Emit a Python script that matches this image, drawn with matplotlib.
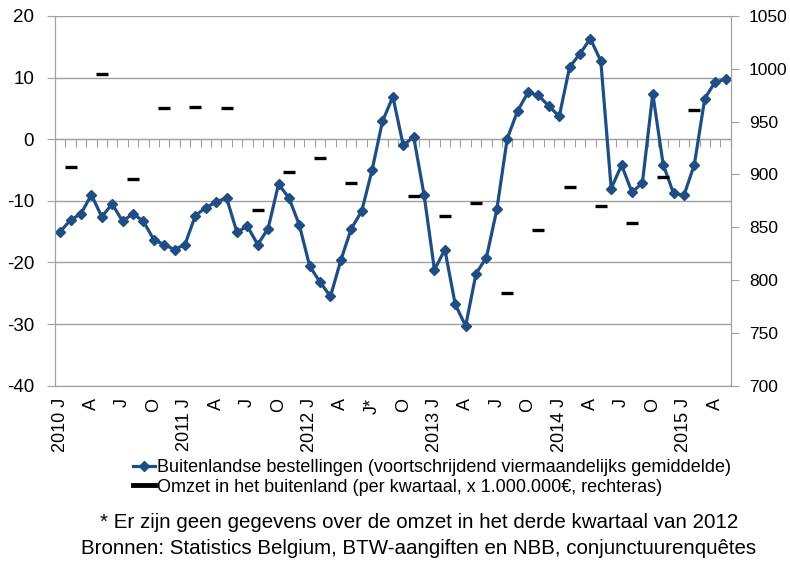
import numpy as np
import pandas as pd
import matplotlib
matplotlib.use("Agg")
import matplotlib.pyplot as plt
from matplotlib.lines import Line2D

plt.rcParams['font.family'] = ['Liberation Sans Narrow', 'Liberation Sans', 'DejaVu Sans']
plt.rcParams['axes.unicode_minus'] = False

# monthly categories Jan 2010 - May 2015
months = pd.date_range('2010-01-01', periods=65, freq='MS')

# Buitenlandse bestellingen (left axis)
orders = [-15.0, -13.1, -12.1, -9.0, -12.6, -10.5, -13.3, -12.1, -13.3, -16.3,
          -17.1, -17.9, -17.1, -12.4, -11.1, -10.2, -9.5, -15.1, -14.1, -17.1,
          -14.5, -7.3, -9.5, -13.9, -20.6, -23.2, -25.5, -19.6, -14.5, -11.7,
          -5.0, 2.9, 6.9, -1.0, 0.4, -9.0, -21.2, -17.9, -26.8, -30.3,
          -21.8, -19.2, -11.4, 0.1, 4.6, 7.6, 7.1, 5.4, 3.7, 11.7,
          13.9, 16.3, 12.7, -8.0, -4.2, -8.6, -7.1, 7.4, -4.1, -8.8,
          -9.1, -4.1, 6.6, 9.3, 9.7]

# Omzet in het buitenland per kwartaal (right axis), Q1 2010 - Q1 2015, Q3 2012 missing
turnover = [907, 995, 896, 963, 964, 963, 866, 902, 916, 892, np.nan,
            880, 861, 873, 788, 847, 888, 870, 854, 898, 961]

quarter_labels = ['2010 J', 'A', 'J', 'O', '2011 J', 'A', 'J', 'O',
                  '2012 J', 'A', 'J*', 'O', '2013 J', 'A', 'J', 'O',
                  '2014 J', 'A', 'J', 'O', '2015 J', 'A']

x = np.arange(len(months))
xq = np.arange(len(turnover)) * 3 + 1   # middle month of each quarter

BLUE = '#1F4E85'
GRAY = '#A0A0A0'

fig = plt.figure(figsize=(7.9, 5.65), dpi=100)
ax = fig.add_axes([0.0696, 0.3173, 0.925 - 0.0696, 0.9717 - 0.3173])
ax2 = ax.twinx()

ax.plot(x, orders, '-D', color=BLUE, linewidth=2.3, markersize=5.5, zorder=3)
ax2.plot(xq, turnover, '_', color='black', markersize=8, markeredgewidth=2.4)

ax.set_xlim(-0.5, len(months) - 0.5)
ax.set_ylim(-40, 20)
ax.set_yticks(np.arange(-40, 21, 10))
ax2.set_ylim(700, 1050)
ax2.set_yticks(np.arange(700, 1051, 50))

ax.yaxis.grid(True, color=GRAY, linewidth=1)
ax.set_axisbelow(True)

for a in (ax, ax2):
    for s in a.spines.values():
        s.set_color(GRAY)
    a.spines['top'].set_visible(False)
ax.tick_params(axis='y', direction='out', length=6, color=GRAY,
               labelsize=13.5, pad=9)
ax2.tick_params(axis='y', direction='out', length=6, color=GRAY,
                labelsize=12.5, pad=7)

ax.set_xticks(x[::3])
ax.set_xticklabels(quarter_labels, rotation=90, fontsize=13)
ax.tick_params(axis='x', length=0, pad=9)

# horizontal category axis crossing at zero, with tick marks between months
zero_pos = (0 - (-40)) / 60
sec = ax.secondary_xaxis(zero_pos)
sec.set_alignment('bottom')
sec.set_xticks(np.arange(-0.5, len(months), 1))
sec.tick_params(axis='x', direction='out', length=6, color=GRAY,
                labelbottom=False, labeltop=False)
sec.spines['bottom'].set_color(GRAY)
sec.spines['top'].set_visible(False)

handles = [
    Line2D([], [], color=BLUE, marker='D', linewidth=2.3, markersize=5.5),
    Line2D([], [], color='black', linewidth=3.5),
]
labels = ['Buitenlandse bestellingen (voortschrijdend viermaandelijks gemiddelde)',
          'Omzet in het buitenland (per kwartaal, x 1.000.000€, rechteras)']
fig.legend(handles, labels, loc='center', bbox_to_anchor=(0.547, 0.155),
           frameon=False, fontsize=13, handlelength=1.2, handletextpad=0.1,
           labelspacing=0.15, borderpad=0)

fig.text(0.53, 0.076, '* Er zijn geen gegevens over de omzet in het derde kwartaal van 2012',
         ha='center', va='center', fontsize=14.8)
fig.text(0.53, 0.03, 'Bronnen: Statistics Belgium, BTW-aangiften en NBB, conjunctuurenquêtes',
         ha='center', va='center', fontsize=14.8)

fig.savefig('out.png', dpi=100)
